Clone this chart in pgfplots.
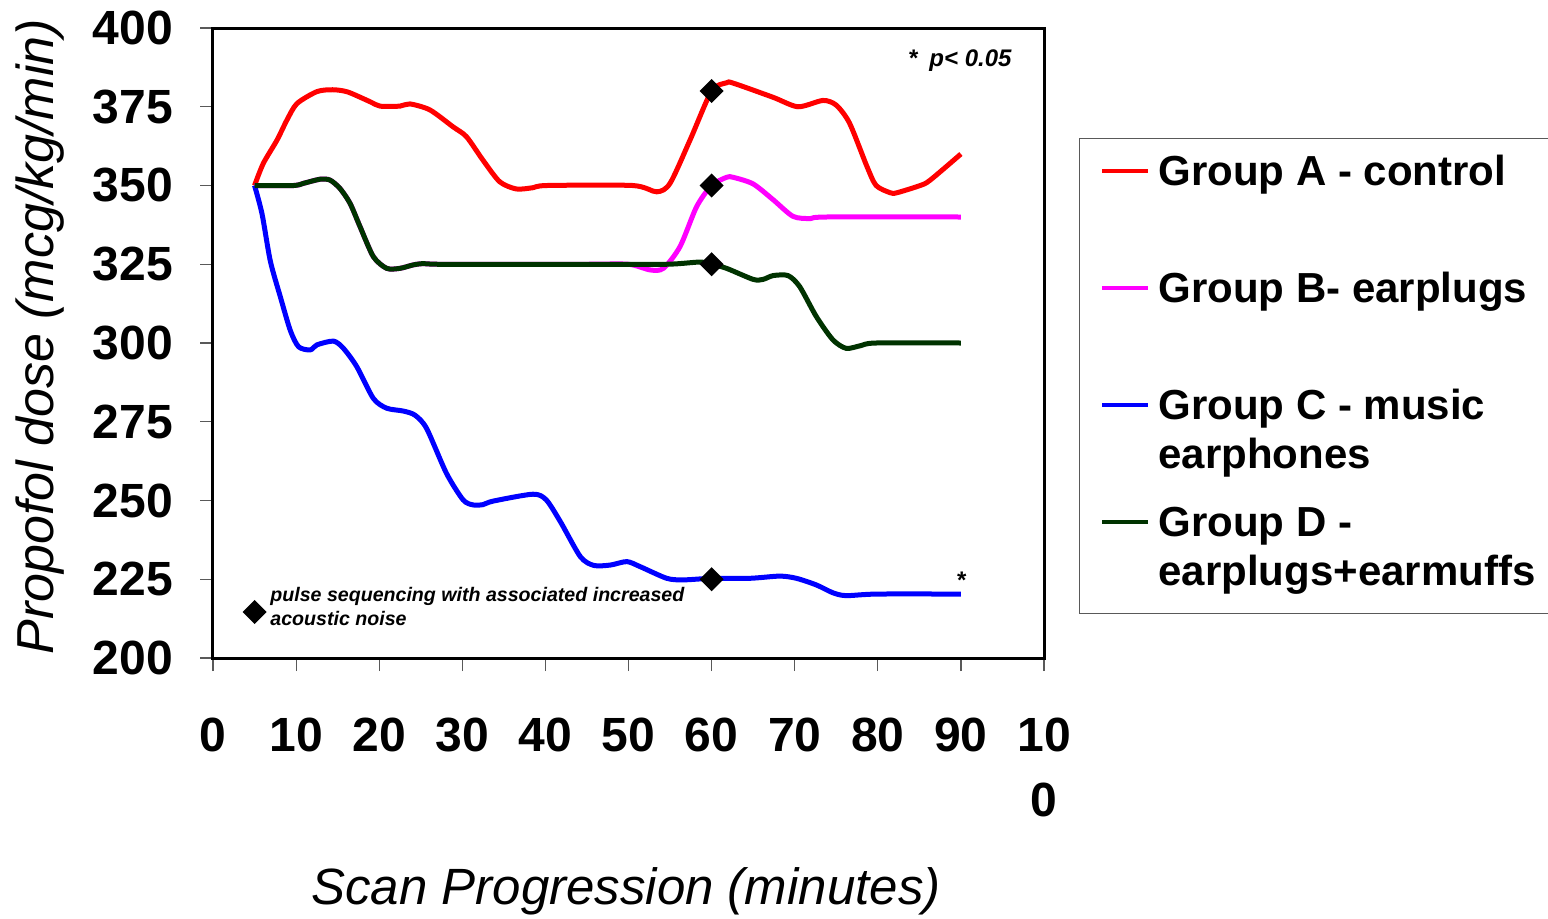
\documentclass[border=0pt]{standalone}
\usepackage{fontspec}
\setmainfont{Liberation Sans}
\usepackage{pgfplots}
\pgfplotsset{compat=1.18}
\definecolor{grpA}{RGB}{255,0,0}
\definecolor{grpB}{RGB}{255,0,255}
\definecolor{grpC}{RGB}{0,0,255}
\definecolor{grpD}{RGB}{0,51,0}

\begin{document}
\begin{tikzpicture}
\begin{axis}[
  at={(106.5pt,130pt)}, anchor=south west,
  scale only axis, width=415.5pt, height=315pt,
  xmin=0, xmax=100, ymin=200, ymax=400,
  xtick={0,10,...,100},
  xticklabels={0,10,20,30,40,50,60,70,80,90,{10\\0}},
  ytick={200,225,...,400},
  tick pos=left, tick align=outside,
  major tick length=6.5pt,
  tick style={gray!70!black, line width=0.6pt},
  axis line style={line width=1.5pt},
  /pgf/number format/assume math mode=true,
  xticklabel style={font=\fontsize{24}{32.5}\selectfont\bfseries, align=center, yshift=-20pt},
  yticklabel style={font=\fontsize{24}{28}\selectfont\bfseries, xshift=-10pt},
  xlabel={Scan Progression (minutes)},
  ylabel={Propofol dose (mcg/kg/min)},
  xlabel style={font=\fontsize{25.5}{30}\selectfont\itshape, at={(axis description cs:0.497,-0.37)}, anchor=center},
  ylabel style={font=\fontsize{26}{30}\selectfont\itshape, at={(axis description cs:-0.208,0.51)}, anchor=center},
  legend cell align=left,
  legend style={at={(1.042,0.8254)}, anchor=north west, draw=gray!70!black, line width=0.6pt,
    font=\fontsize{21}{24.5}\selectfont\bfseries, inner xsep=10pt, inner ysep=4.5pt, row sep=5.5pt,
    cells={anchor=base west}, nodes={inner sep=2pt, text depth=}},
  legend image code/.code={\path (0pt,0pt) (25pt,0pt); \draw[#1, line width=2pt] (0pt,7.5pt) -- (23pt,7.5pt);},
  clip=false,
  every axis plot/.append style={line width=2.5pt, smooth, tension=0.45},
]
% Group A - control
\addplot[grpA] coordinates {
  (5,350) (6.05,357) (7.7,364.4) (8.9,370.8) (10.1,376) (12.5,379.8) (14.4,380.4) (16.2,379.7) (18.9,376.6)
  (20.1,375.2) (22.5,375.2) (23.7,375.9) (26.1,374) (28.9,368.6) (30.5,365.5) (32.5,358)
  (34.5,351.2) (36.5,348.9) (38.5,349.3) (40.2,350) (50.5,350) (53.4,348) (55,350.7)
  (57.4,364.4) (60,380) (61.8,382.6) (62.6,382.5) (67.4,378) (70.4,375) (73.4,377)
  (75,375.5) (76.6,369.8) (78.7,356) (79.8,350) (81.5,347.7) (82.3,347.7) (85.1,350)
  (86.3,351.7) (90,360)
};
\addlegendentry{\begin{tabular}[t]{@{}l@{}}Group A - control\\\mbox{}\end{tabular}}
% Group B - earplugs
\addplot[grpB] coordinates {
  (5,350) (9.7,350) (10.9,350.7) (12.9,352) (14.1,351.7) (15.3,349) (16.5,344.3)
  (17.7,336.9) (19.3,327.4) (20.9,323.7) (22.5,323.7) (24.1,324.8) (25.3,325.2) (27,325)
  (35,325) (45,325) (50,325) (52.6,323.2) (54.2,323.7) (56.2,330.6) (58.2,343.3) (60,350) (61.8,352.6)
  (62.6,352.6) (65,350.5) (67.4,345.5) (69.8,340.2) (71.9,339.5) (73.8,340) (90,340)
};
\addlegendentry{\begin{tabular}[t]{@{}l@{}}Group B- earplugs\\\mbox{}\end{tabular}}
% Group C - music earphones
\addplot[grpC] coordinates {
  (5,350) (5.9,341) (6.9,326) (8.1,314.7) (9.3,304) (10.3,298.8) (11.7,297.8) (12.5,299.4)
  (14.5,300.6) (15.7,298.3) (17.3,292.5) (19.3,282.4) (20.9,279.3) (22.9,278.4) (24.3,277.1)
  (25.7,272.9) (28.1,258.6) (30.1,250.2) (31.3,248.6) (32.5,248.7) (33.7,249.8) (38.5,252)
  (40.1,250.2) (41.8,243.3) (44.2,232.2) (45.8,229.4) (47.8,229.5) (49.8,230.6) (51.4,229)
  (54.6,225.3) (56.6,224.8) (60,225.3) (64.6,225.3) (68.2,226) (70.2,225.3) (72.6,223.2)
  (74.6,220.7) (76.2,219.8) (79.9,220.3) (90,220.3)
};
\addlegendentry{\begin{tabular}[t]{@{}l@{}}Group C - music\\earphones\end{tabular}}
% Group D - earplugs+earmuffs
\addplot[grpD] coordinates {
  (5,350) (9.7,350) (10.9,350.7) (12.9,352) (14.1,351.7) (15.3,349) (16.5,344.3)
  (17.7,336.9) (19.3,327.4) (20.9,323.7) (22.5,323.7) (24.1,324.8) (25.3,325.2) (27,325)
  (35,325) (45,325) (54.6,325) (58.6,325.7) (60,325) (61.8,323.7) (65,320.2) (66.2,320.2) (67.4,321.4)
  (69.2,321.4) (70.6,317.9) (72.6,308.4) (74.6,301) (76.2,298.3) (78,299.2) (79.8,300) (90,300)
};
\addlegendentry{\begin{tabular}[t]{@{}l@{}}Group D -\\earplugs+earmuffs\end{tabular}}

% pulse sequencing markers
\addplot[only marks, mark=square*, mark size=3pt, mark options={rotate=45, fill=black, draw=black}, forget plot]
  coordinates {(60,380) (60,350) (60,325) (60,225) (5,214.6)};

\node[anchor=west, align=left, inner sep=0pt, font=\fontsize{9.8}{12}\selectfont\bfseries\itshape]
  at (axis cs:6.86,216.5) {pulse sequencing with associated increased\\acoustic noise};
\node[anchor=west, inner sep=0pt, font=\fontsize{12}{14}\selectfont\bfseries\itshape]
  at (axis cs:83.6,389.6) {*\hspace{6pt}p< 0.05};
\node[inner sep=0pt, font=\fontsize{12}{14}\selectfont\bfseries] at (axis cs:90.1,224.8) {*};
\end{axis}
\pgfresetboundingbox
\path[use as bounding box] (0,0) rectangle (774pt,459pt);
\end{tikzpicture}
\end{document}
